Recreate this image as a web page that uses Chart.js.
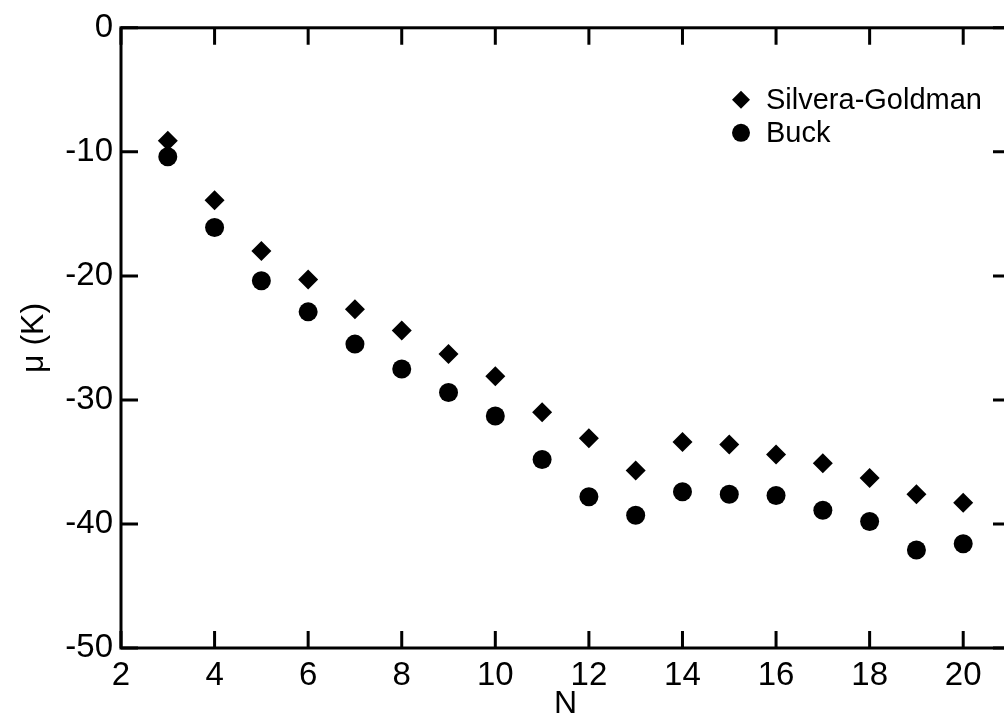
<!DOCTYPE html>
<html>
<head>
<meta charset="utf-8">
<title>Chemical potential vs N</title>
<script src="https://cdn.jsdelivr.net/npm/chart.js@4/dist/chart.umd.min.js"></script>
<style>
  html, body { margin: 0; padding: 0; background: #fff; overflow: hidden; }
  #wrap { width: 1004px; height: 723px; overflow: hidden; }
</style>
</head>
<body>
<div id="wrap"><canvas id="muChart" width="1020" height="723"></canvas></div>
<script>
// cluster size N
const sizes = [3, 4, 5, 6, 7, 8, 9, 10, 11, 12, 13, 14, 15, 16, 17, 18, 19, 20];

// chemical potential (K) for the two pair potentials
const silveraGoldman = [-9.1, -13.9, -18.0, -20.3, -22.7, -24.4, -26.3, -28.1, -31.0,
  -33.1, -35.7, -33.4, -33.6, -34.4, -35.1, -36.3, -37.6, -38.3];
const buck = [-10.4, -16.1, -20.4, -22.9, -25.5, -27.5, -29.4, -31.3, -34.8,
  -37.8, -39.3, -37.4, -37.6, -37.7, -38.9, -39.8, -42.1, -41.6];

// axis ticks
const xTicks = [2, 4, 6, 8, 10, 12, 14, 16, 18, 20];
const yTicks = [0, -10, -20, -30, -40, -50];

const FONT = '"Liberation Sans", Arial, Helvetica, sans-serif';
const INK = '#000';

const toPoints = (ys) => sizes.map((n, i) => ({ x: n, y: ys[i] }));

/* frame + inward tick marks on all four sides */
const frameTicks = {
  id: 'frameTicks',
  afterDatasetsDraw(chart) {
    const { ctx, chartArea: a, scales: { x, y } } = chart;
    const len = 17;
    ctx.save();
    ctx.strokeStyle = INK;
    ctx.lineWidth = 3;
    ctx.strokeRect(a.left, a.top, a.right - a.left, a.bottom - a.top);
    ctx.beginPath();
    xTicks.forEach(v => {
      const px = x.getPixelForValue(v);
      ctx.moveTo(px, a.bottom); ctx.lineTo(px, a.bottom - len);
      ctx.moveTo(px, a.top);    ctx.lineTo(px, a.top + len);
    });
    yTicks.forEach(v => {
      const py = y.getPixelForValue(v);
      ctx.moveTo(a.left, py);  ctx.lineTo(a.left + len, py);
      ctx.moveTo(a.right, py); ctx.lineTo(a.right - len, py);
    });
    ctx.stroke();
    ctx.restore();
  }
};

/* legend drawn inside the plot, upper right */
const innerLegend = {
  id: 'innerLegend',
  afterDraw(chart) {
    const { ctx, chartArea: a } = chart;
    const x0 = a.left + 620;
    const y0 = a.top + 72;
    ctx.save();
    ctx.fillStyle = INK;
    ctx.font = '29px ' + FONT;
    ctx.textBaseline = 'middle';
    chart.data.datasets.forEach((ds, i) => {
      const cy = y0 + i * 33;
      ctx.beginPath();
      if (ds.pointStyle === 'rectRot') {
        const r = 9;
        ctx.moveTo(x0, cy - r); ctx.lineTo(x0 + r, cy);
        ctx.lineTo(x0, cy + r); ctx.lineTo(x0 - r, cy);
        ctx.closePath();
      } else {
        ctx.arc(x0, cy, 9, 0, Math.PI * 2);
      }
      ctx.fill();
      ctx.fillText(ds.label, x0 + 25, cy + 1);
    });
    ctx.restore();
  }
};

new Chart(document.getElementById('muChart'), {
  type: 'scatter',
  data: {
    datasets: [
      {
        label: 'Silvera-Goldman',
        data: toPoints(silveraGoldman),
        pointStyle: 'rectRot',
        pointRadius: 10,
        backgroundColor: INK,
        borderColor: INK,
        borderWidth: 0
      },
      {
        label: 'Buck',
        data: toPoints(buck),
        pointStyle: 'circle',
        pointRadius: 9.5,
        backgroundColor: INK,
        borderColor: INK,
        borderWidth: 0
      }
    ]
  },
  options: {
    responsive: false,
    animation: false,
    layout: { padding: { top: 26, right: 6, left: 0, bottom: 0 } },
    plugins: { legend: { display: false }, tooltip: { enabled: false } },
    scales: {
      x: {
        type: 'linear',
        min: 2, max: 21,
        afterFit(scale) { scale.height = 75; },
        grid: { display: false, drawTicks: false },
        border: { display: false },
        ticks: {
          stepSize: 2,
          includeBounds: false,
          padding: 8,
          color: INK,
          font: { family: FONT, size: 33 }
        },
        title: {
          display: true,
          text: 'N',
          color: INK,
          font: { family: FONT, size: 32 },
          padding: { top: 0, bottom: 0 }
        }
      },
      y: {
        type: 'linear',
        min: -50, max: 0,
        afterFit(scale) { scale.width = 121; },
        grid: { display: false, drawTicks: false },
        border: { display: false },
        ticks: {
          stepSize: 10,
          padding: 8,
          color: INK,
          font: { family: FONT, size: 33 }
        },
        title: {
          display: true,
          text: 'μ (K)',
          color: INK,
          font: { family: FONT, size: 32 },
          padding: { top: 15, bottom: 0 }
        }
      }
    }
  },
  plugins: [frameTicks, innerLegend]
});
</script>
</body>
</html>
